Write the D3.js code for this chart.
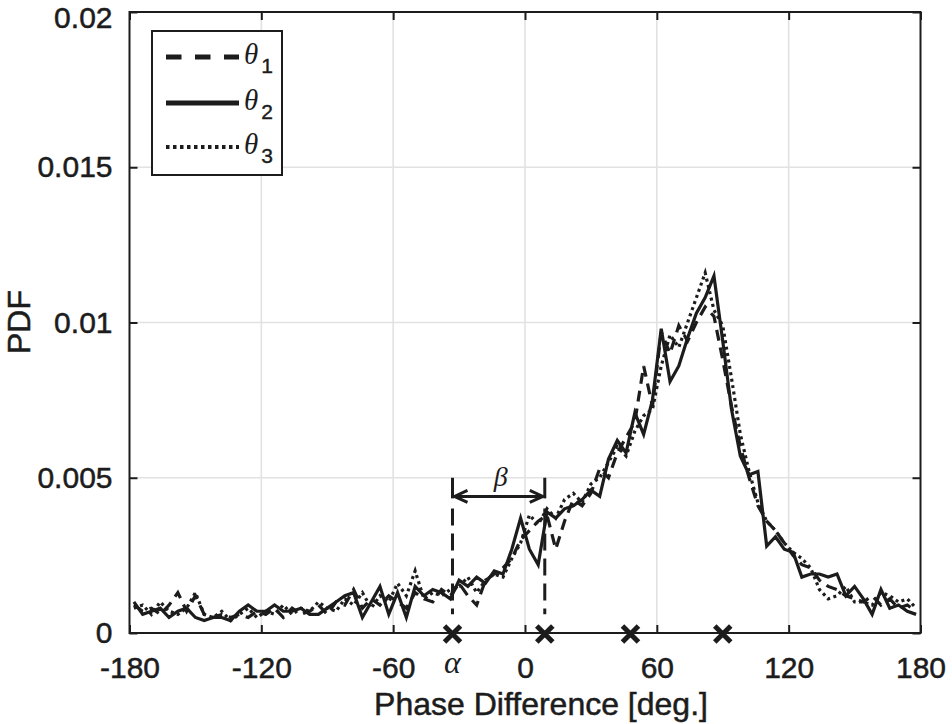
<!DOCTYPE html>
<html>
<head>
<meta charset="utf-8">
<script src="https://cdn.jsdelivr.net/npm/d3@7"></script>
<style>
  html, body { margin: 0; padding: 0; background: #fff; }
  svg { display: block; }
</style>
</head>
<body>
<svg id="chart" width="952" height="724"></svg>
<script>
// ---------------- DATA ----------------
const phaseDeg = [
  -178,-174,-170,-166,-162,-158,-154,-150,-146,-142,-138,-134,-130,-126,-122,-118,-114,-110,-106,-102,-98,-94,-90,-86,-82,-78,-74,-70,-66,-62,
  -58,-54,-50,-46,-42,-38,-34,-30,-26,-22,-18,-14,-10,-6,-2,
  2,6,10,14,18,22,26,30,34,38,42,46,50,54,58,
  62,66,70,74,78,82,86,90,94,98,102,106,110,114,118,
  122,126,130,134,138,142,146,150,154,158,162,166,170,174,178
];
const theta1 = [
  0.0009,0.0007,0.0008,0.0006,0.0009,0.0013,0.0007,0.0012,0.0006,0.0005,0.0006,0.0005,0.0006,0.0005,0.0007,0.0006,0.0008,0.0005,0.0008,0.0006,0.0007,0.0009,0.0006,0.0010,0.0009,0.0014,0.0008,0.0011,0.0009,0.0012,
  0.0010,0.0008,0.0013,0.0011,0.0010,0.0014,0.0012,0.0016,0.0012,0.0009,0.0017,0.0019,0.0021,0.0024,0.0030,
  0.0033,0.0036,0.0038,0.0027,0.0036,0.0043,0.0041,0.0045,0.0053,0.0050,0.0058,0.0063,0.0068,0.0086,0.0073,
  0.0097,0.0090,0.0099,0.0094,0.0100,0.0105,0.0102,0.0088,0.0073,0.0060,0.0050,0.0041,0.0036,0.0033,0.0029,
  0.0025,0.0022,0.0021,0.0017,0.0015,0.0014,0.0012,0.0011,0.0010,0.0012,0.0009,0.0011,0.0008,0.0009,0.0007
];
const theta2 = [
  0.0010,0.0006,0.0007,0.0008,0.0005,0.0007,0.0008,0.0005,0.0004,0.0005,0.0005,0.0004,0.0007,0.0009,0.0007,0.0007,0.0009,0.0007,0.0007,0.0008,0.0006,0.0006,0.0008,0.0010,0.0012,0.0013,0.0005,0.0010,0.0015,0.0006,
  0.0013,0.0005,0.0015,0.0012,0.0014,0.0013,0.0011,0.0017,0.0015,0.0018,0.0016,0.0020,0.0019,0.0027,0.0037,
  0.0027,0.0022,0.0039,0.0037,0.0040,0.0041,0.0043,0.0046,0.0044,0.0056,0.0062,0.0058,0.0071,0.0064,0.0075,
  0.0098,0.0081,0.0086,0.0095,0.0103,0.0108,0.0115,0.0094,0.0072,0.0057,0.0051,0.0052,0.0028,0.0031,0.0027,
  0.0026,0.0018,0.0019,0.0019,0.0018,0.0019,0.0012,0.0015,0.0011,0.0006,0.0014,0.0008,0.0009,0.0007,0.0006
];
const theta3 = [
  0.0008,0.0009,0.0006,0.0010,0.0007,0.0006,0.0008,0.0013,0.0006,0.0005,0.0007,0.0004,0.0006,0.0008,0.0005,0.0007,0.0006,0.0009,0.0006,0.0008,0.0007,0.0010,0.0008,0.0007,0.0011,0.0009,0.0013,0.0008,0.0012,0.0010,
  0.0016,0.0012,0.0020,0.0011,0.0013,0.0012,0.0014,0.0015,0.0018,0.0013,0.0017,0.0019,0.0018,0.0024,0.0029,
  0.0038,0.0035,0.0040,0.0037,0.0043,0.0045,0.0042,0.0048,0.0050,0.0055,0.0060,0.0057,0.0065,0.0070,0.0072,
  0.0086,0.0096,0.0092,0.0100,0.0108,0.0116,0.0104,0.0099,0.0082,0.0064,0.0052,0.0042,0.0036,0.0033,0.0029,
  0.0026,0.0024,0.0021,0.0014,0.0011,0.0012,0.0015,0.0010,0.0010,0.0009,0.0013,0.0012,0.0010,0.0011,0.0008
];
const seriesNames = ["1", "2", "3"];
const xTicks = [-180, -120, -60, 0, 60, 120, 180];
const yTicks = [0, 0.005, 0.01, 0.015, 0.02];
const yTickLabels = ["0", "0.005", "0.01", "0.015", "0.02"];
const markerDeg = [-33, 9, 48, 90];
const alphaDeg = -33;
const betaEndDeg = 9;
const bracketTop = 0.005, bracketArrow = 0.0044, bracketBottom = 0.0006;

// ---------------- LAYOUT ----------------
const svg = d3.select("#chart");
const L = 129.5, R = 920.5, T = 12, B = 633;
const x = d3.scaleLinear().domain([-180, 180]).range([L, R]);
const y = d3.scaleLinear().domain([0, 0.02]).range([B, T]);
const ink = "#1c1c1c";
const sans = "'Liberation Sans', Arial, Helvetica, sans-serif";
const serif = "'Liberation Serif', 'Times New Roman', serif";

// grid
const grid = svg.append("g");
grid.selectAll("line.vx").data(xTicks.slice(1, -1)).join("line")
  .attr("x1", d => x(d)).attr("x2", d => x(d)).attr("y1", T).attr("y2", B)
  .attr("stroke", "#e2e2e2").attr("stroke-width", 1.6);
grid.selectAll("line.hy").data(yTicks.slice(1, -1)).join("line")
  .attr("x1", L).attr("x2", R).attr("y1", d => y(d)).attr("y2", d => y(d))
  .attr("stroke", "#e2e2e2").attr("stroke-width", 1.6);

// curves
const styles = [
  { data: theta1, dash: "11,7" },
  { data: theta2, dash: null },
  { data: theta3, dash: "3,3.5" }
];
const line = d3.line().x((d, i) => x(phaseDeg[i])).y(d => y(d));
const curves = svg.append("g");
styles.forEach(s => {
  curves.append("path").datum(s.data)
    .attr("d", line)
    .attr("fill", "none")
    .attr("stroke", ink)
    .attr("stroke-width", 3.2)
    .attr("stroke-linejoin", "miter")
    .attr("stroke-dasharray", s.dash);
});

// bracket annotation
const ann = svg.append("g").attr("stroke", ink).attr("fill", "none");
[alphaDeg, betaEndDeg].forEach(d => {
  ann.append("line").attr("x1", x(d)).attr("x2", x(d))
    .attr("y1", y(bracketTop)).attr("y2", y(bracketArrow) + 2)
    .attr("stroke-width", 3);
  ann.append("line").attr("x1", x(d)).attr("x2", x(d))
    .attr("y1", y(bracketArrow) + 12).attr("y2", y(bracketBottom))
    .attr("stroke-width", 3).attr("stroke-dasharray", "17,8");
});
const ax1 = x(alphaDeg) + 2, ax2 = x(betaEndDeg) - 2, ay = y(bracketArrow);
ann.append("line").attr("x1", ax1).attr("x2", ax2).attr("y1", ay).attr("y2", ay).attr("stroke-width", 3);
ann.append("path").attr("d", `M${ax1 + 13},${ay - 6} L${ax1},${ay} L${ax1 + 13},${ay + 6}`).attr("stroke-width", 3);
ann.append("path").attr("d", `M${ax2 - 13},${ay - 6} L${ax2},${ay} L${ax2 - 13},${ay + 6}`).attr("stroke-width", 3);
svg.append("text").attr("x", (x(alphaDeg) + x(betaEndDeg)) / 2 + 2).attr("y", y(bracketTop) + 8)
  .attr("text-anchor", "middle").attr("font-family", serif).attr("font-style", "italic")
  .attr("font-size", 28).attr("fill", ink).text("β");

// frame
svg.append("rect").attr("x", L).attr("y", T).attr("width", R - L).attr("height", B - T)
  .attr("fill", "none").attr("stroke", ink).attr("stroke-width", 2);

// axes
const xAxis = d3.axisBottom(x).tickValues(xTicks).tickSize(-8).tickPadding(24).tickFormat(d => String(d));
const gx = svg.append("g").attr("transform", `translate(0,${B})`).call(xAxis);
const yAxis = d3.axisLeft(y).tickValues(yTicks).tickSize(-8).tickPadding(17)
  .tickFormat((d, i) => yTickLabels[i]);
const gy = svg.append("g").attr("transform", `translate(${L},0)`).call(yAxis);
const gxt = svg.append("g").attr("transform", `translate(0,${T})`)
  .call(d3.axisTop(x).tickValues(xTicks).tickSize(-8).tickFormat(""));
const gyr = svg.append("g").attr("transform", `translate(${R},0)`)
  .call(d3.axisRight(y).tickValues(yTicks).tickSize(-8).tickFormat(""));
[gx, gy, gxt, gyr].forEach(g => {
  g.select(".domain").remove();
  g.selectAll(".tick line").attr("stroke", ink).attr("stroke-width", 2);
  g.selectAll(".tick text").attr("fill", ink).attr("font-family", sans).attr("font-size", 30)
    .attr("stroke", ink).attr("stroke-width", 0.5);
});
// keep the top label inside the canvas
gy.selectAll(".tick text").filter(d => d === 0.02).attr("dy", "0.52em");

// x markers on axis
const mk = svg.append("g").attr("stroke", ink).attr("stroke-width", 5);
markerDeg.forEach(d => {
  const cx = x(d), cy = B + 1, s = 8;
  mk.append("line").attr("x1", cx - s).attr("y1", cy - s).attr("x2", cx + s).attr("y2", cy + s);
  mk.append("line").attr("x1", cx - s).attr("y1", cy + s).attr("x2", cx + s).attr("y2", cy - s);
});
svg.append("text").attr("x", x(alphaDeg)).attr("y", 673).attr("text-anchor", "middle")
  .attr("font-family", serif).attr("font-style", "italic").attr("font-size", 32).attr("fill", ink).text("α");

// axis titles
svg.append("text").attr("x", 541).attr("y", 715).attr("text-anchor", "middle")
  .attr("font-family", sans).attr("font-size", 32).attr("fill", ink)
  .attr("stroke", ink).attr("stroke-width", 0.5).text("Phase Difference [deg.]");
svg.append("text").attr("transform", "translate(30,322) rotate(-90)").attr("text-anchor", "middle")
  .attr("font-family", sans).attr("font-size", 32).attr("fill", ink)
  .attr("stroke", ink).attr("stroke-width", 0.5).text("PDF");

// legend
const lg = svg.append("g");
lg.append("rect").attr("x", 152).attr("y", 31).attr("width", 130).attr("height", 144)
  .attr("fill", "#fff").attr("stroke", ink).attr("stroke-width", 2);
const rowY = [57, 103, 147];
styles.forEach((s, i) => {
  lg.append("line").attr("x1", 166).attr("x2", 239).attr("y1", rowY[i]).attr("y2", rowY[i])
    .attr("stroke", ink).attr("stroke-width", i === 2 ? 4 : 5)
    .attr("stroke-dasharray", i === 0 ? "15.5,13.5" : (i === 2 ? "3.5,3.5" : null));
  const t = lg.append("text").attr("x", 244).attr("y", rowY[i] + 7).attr("fill", ink);
  t.append("tspan").attr("font-family", serif).attr("font-style", "italic").attr("font-size", 29).text("θ");
  t.append("tspan").attr("font-family", sans).attr("font-size", 21).attr("dx", 3).attr("dy", 9)
    .attr("stroke", ink).attr("stroke-width", 0.4).text(seriesNames[i]);
});
</script>
</body>
</html>
